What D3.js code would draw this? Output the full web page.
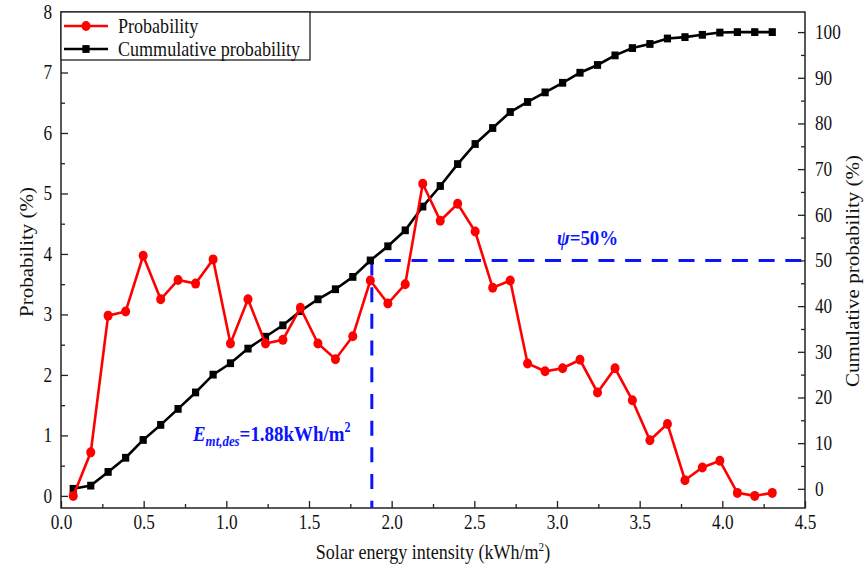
<!DOCTYPE html>
<html><head><meta charset="utf-8">
<script src="https://cdn.jsdelivr.net/npm/d3@7/dist/d3.min.js"></script>
<style>body{margin:0;background:#fff}svg{display:block}text{font-family:"Liberation Serif","Times New Roman",serif;}</style>
</head><body><svg id="c" width="865" height="576"></svg>
<script>
const intensity = [0.074,0.180,0.285,0.391,0.497,0.603,0.708,0.814,0.920,1.025,1.131,1.237,1.342,1.448,1.554,1.660,1.765,1.871,1.977,2.082,2.188,2.294,2.399,2.505,2.611,2.717,2.822,2.928,3.034,3.139,3.245,3.351,3.456,3.562,3.668,3.774,3.879,3.985,4.091,4.196,4.302];
const probability = [0.00,0.72,2.98,3.05,3.97,3.25,3.57,3.51,3.91,2.52,3.25,2.52,2.58,3.11,2.52,2.26,2.64,3.56,3.18,3.50,5.16,4.55,4.83,4.37,3.44,3.56,2.19,2.06,2.11,2.25,1.71,2.11,1.58,0.92,1.19,0.26,0.47,0.58,0.05,0.00,0.05];
const cumulative = [0.0,0.7,3.7,6.8,10.7,14.0,17.5,21.1,25.0,27.5,30.7,33.3,35.8,38.9,41.5,43.7,46.4,50.0,53.1,56.6,61.8,66.3,71.1,75.5,79.0,82.5,84.7,86.8,88.9,91.1,92.8,94.9,96.5,97.4,98.6,98.9,99.4,99.9,100.0,100.0,100.0];
const xTicks = [0,0.5,1,1.5,2,2.5,3,3.5,4,4.5];
const leftTicks = [0,1,2,3,4,5,6,7,8];
const rightTicks = [0,10,20,30,40,50,60,70,80,90,100];
const seriesNames = ["Probability","Cummulative probability"];
const designE = 1.88, designPsi = 50;

const SX = 0.86;
const L=61, R=805, T=12, B=508;
const svg = d3.select("#c");
const x = d3.scaleLinear().domain([0,4.5]).range([L,R]);
const yL = d3.scaleLinear().domain([-0.2,8]).range([B,T]);
const yR = d3.scaleLinear().domain([-4.2,104.4]).range([B,T]);

function squeeze(sel){
  sel.each(function(){
    const t=d3.select(this);
    const xv=+t.attr("x")||0;
    t.attr("x", xv/SX).attr("transform", `scale(${SX},1)`);
  });
}

// axes
const gx = svg.append("g").attr("transform",`translate(0,${B})`)
  .call(d3.axisBottom(x).tickValues(xTicks).tickFormat(d3.format(".1f")).tickSize(-7).tickSizeOuter(0).tickPadding(7));
const gxm = svg.append("g").attr("transform",`translate(0,${B})`)
  .call(d3.axisBottom(x).tickValues(d3.range(0.25,4.5,0.5)).tickFormat("").tickSize(-4).tickSizeOuter(0));
const gl = svg.append("g").attr("transform",`translate(${L},0)`)
  .call(d3.axisLeft(yL).tickValues(leftTicks).tickFormat(d3.format("d")).tickSize(-7).tickSizeOuter(0).tickPadding(9));
const glm = svg.append("g").attr("transform",`translate(${L},0)`)
  .call(d3.axisLeft(yL).tickValues(d3.range(0.5,8,1)).tickFormat("").tickSize(-4).tickSizeOuter(0));
const gr = svg.append("g").attr("transform",`translate(${R},0)`)
  .call(d3.axisRight(yR).tickValues(rightTicks).tickFormat(d3.format("d")).tickSize(-7).tickSizeOuter(0).tickPadding(10));
const grm = svg.append("g").attr("transform",`translate(${R},0)`)
  .call(d3.axisRight(yR).tickValues(d3.range(5,100,10)).tickFormat("").tickSize(-4).tickSizeOuter(0));
[gx,gxm,gl,glm,gr,grm].forEach(g=>{
  g.select(".domain").remove();
  g.selectAll("line").attr("stroke","#222").attr("stroke-width",1.3);
  g.selectAll("text").attr("font-size",20).attr("fill","#111").style("font-family","'Liberation Serif',serif");
});
[gx,gl,gr].forEach(g=>squeeze(g.selectAll("text")));

svg.append("rect").attr("x",L).attr("y",T).attr("width",R-L).attr("height",B-T)
  .attr("fill","none").attr("stroke","#222").attr("stroke-width",1.5);

// titles
function label(xp,yp,rot,txt,size,anchor){
  const g=svg.append("g").attr("transform",`translate(${xp},${yp}) scale(${SX},1) rotate(${rot})`);
  return g.append("text").attr("text-anchor",anchor||"middle").attr("font-size",size).attr("fill","#111");
}
const xt = label(433,559,0,"",21);
xt.append("tspan").text("Solar energy intensity (kWh/m");
xt.append("tspan").attr("font-size",13).attr("dy",-8).text("2");
xt.append("tspan").attr("dy",8).text(")");
label(33,252,-90,"",21).text("Probability (%)");
label(859,271,-90,"",21).text("Cumulative probability (%)");

// design lines
const blue="#0a14ff";
svg.append("line").attr("x1",x(designE)).attr("x2",x(designE)).attr("y1",yR(designPsi)).attr("y2",B)
  .attr("stroke",blue).attr("stroke-width",3).attr("stroke-dasharray","15,11.7");
svg.append("line").attr("x1",x(designE)+13).attr("x2",R).attr("y1",yR(designPsi)).attr("y2",yR(designPsi))
  .attr("stroke",blue).attr("stroke-width",3).attr("stroke-dasharray","16,10.7");

// cumulative series
const dataC = intensity.map((v,i)=>[v,cumulative[i]]);
svg.append("path").datum(dataC).attr("fill","none").attr("stroke","#000").attr("stroke-width",2.6)
  .attr("d",d3.line().x(d=>x(d[0])).y(d=>yR(d[1])));
svg.append("g").selectAll("rect").data(dataC).join("rect")
  .attr("x",d=>x(d[0])-3.6).attr("y",d=>yR(d[1])-3.9).attr("width",7.2).attr("height",7.8).attr("fill","#000");

// probability series
const dataP = intensity.map((v,i)=>[v,probability[i]]);
svg.append("path").datum(dataP).attr("fill","none").attr("stroke","#ff0000").attr("stroke-width",2.6)
  .attr("d",d3.line().x(d=>x(d[0])).y(d=>yL(d[1])));
svg.append("g").selectAll("ellipse").data(dataP).join("ellipse")
  .attr("cx",d=>x(d[0])).attr("cy",d=>yL(d[1])).attr("rx",4.5).attr("ry",5).attr("fill","#ff0000");

// annotations
const e = label(193,441,0,"",22,"start").attr("fill",blue).attr("font-weight","bold");
e.append("tspan").attr("font-style","italic").text("E");
e.append("tspan").attr("font-style","italic").attr("font-size",15).attr("dy",5).text("mt,des");
e.append("tspan").attr("dy",-5).text("=1.88kWh/m");
e.append("tspan").attr("font-size",14).attr("dy",-9).text("2");
const p = label(557,245,0,"",22,"start").attr("fill",blue).attr("font-weight","bold");
p.append("tspan").attr("font-style","italic").text("ψ");
p.append("tspan").text("=50%");

// legend
const lg = svg.append("g");
lg.append("rect").attr("x",L).attr("y",T).attr("width",249).attr("height",48).attr("fill","#fff").attr("stroke","#222").attr("stroke-width",1.3);
const rows=[{c:"#ff0000",shape:"circle",y:26},{c:"#000",shape:"square",y:49}];
rows.forEach((r,i)=>{
  lg.append("line").attr("x1",64).attr("x2",108).attr("y1",r.y).attr("y2",r.y).attr("stroke",r.c).attr("stroke-width",2.6);
  if(r.shape==="circle") lg.append("ellipse").attr("cx",86).attr("cy",r.y).attr("rx",4.5).attr("ry",5).attr("fill",r.c);
  else lg.append("rect").attr("x",86-3.6).attr("y",r.y-3.9).attr("width",7.2).attr("height",7.8).attr("fill",r.c);
  const g=lg.append("g").attr("transform",`translate(118,${r.y+7}) scale(${SX},1)`);
  g.append("text").attr("font-size",21).attr("fill","#111").text(seriesNames[i]);
});
</script></body></html>
